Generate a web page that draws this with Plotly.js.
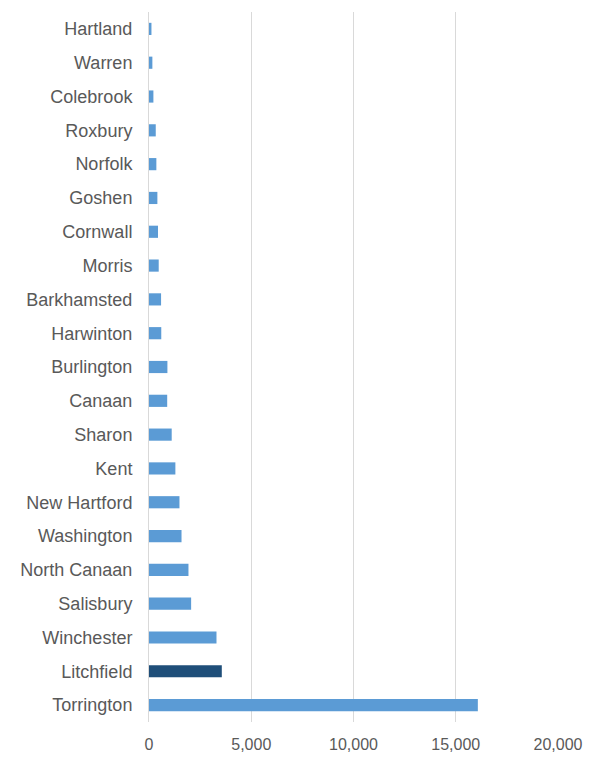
<!DOCTYPE html>
<html>
<head>
<meta charset="utf-8">
<script src="https://cdn.plot.ly/plotly-3.0.1.min.js"></script>
<style>html,body{margin:0;padding:0;background:#fff;}#chart{width:590px;height:757px;}</style>
</head>
<body>
<div id="chart"></div>
<script>
const towns = ["Hartland","Warren","Colebrook","Roxbury","Norfolk","Goshen","Cornwall","Morris","Barkhamsted","Harwinton","Burlington","Canaan","Sharon","Kent","New Hartford","Washington","North Canaan","Salisbury","Winchester","Litchfield","Torrington"];
const values = [120,165,215,330,360,410,440,475,590,600,900,890,1110,1290,1490,1590,1930,2060,3300,3560,16080];
const highlight = "Litchfield";
const xTicks = [0,5000,10000,15000,20000];
const xTickLabels = ["0","5,000","10,000","15,000","20,000"];

const colors = towns.map(t => t === highlight ? "#1f4e79" : "#5b9bd5");

const trace = {
  type: "bar",
  orientation: "h",
  y: towns,
  x: values,
  marker: {color: colors},
  hoverinfo: "x+y"
};

const layout = {
  width: 590,
  height: 757,
  margin: {l: 149, r: 32, t: 12, b: 35},
  paper_bgcolor: "#ffffff",
  plot_bgcolor: "#ffffff",
  showlegend: false,
  bargap: 0.64,
  font: {family: "Liberation Sans, Arial, sans-serif", color: "#595959"},
  xaxis: {
    range: [0, 20000],
    tickvals: xTicks,
    ticktext: xTickLabels,
    showgrid: true,
    gridcolor: "#d9d9d9",
    gridwidth: 1,
    zeroline: false,
    showline: false,
    ticks: "",
    ticklabelstandoff: 11,
    tickfont: {size: 16, color: "#595959"},
    fixedrange: true
  },
  yaxis: {
    type: "category",
    autorange: "reversed",
    showgrid: false,
    zeroline: false,
    showline: true,
    linecolor: "#d9d9d9",
    linewidth: 1,
    ticks: "",
    ticklabelstandoff: 12,
    tickfont: {size: 18, color: "#595959"},
    fixedrange: true
  }
};

Plotly.newPlot("chart", [trace], layout, {displayModeBar: false, staticPlot: true});
</script>
</body>
</html>
